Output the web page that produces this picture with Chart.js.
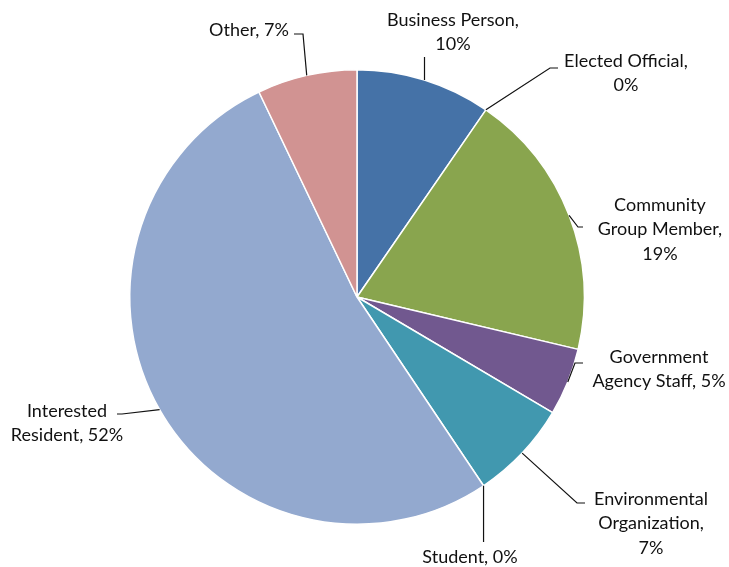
<!DOCTYPE html>
<html>
<head>
<meta charset="utf-8">
<script src="https://cdn.jsdelivr.net/npm/chart.js@4"></script>
<style>
html,body{margin:0;padding:0;background:#fff;}
#wrap{width:729px;height:567px;position:relative;}
</style>
</head>
<body>
<div id="wrap"><canvas id="c" width="729" height="567"></canvas></div>
<script>
const categories = ["Business Person", "Elected Official", "Community Group Member", "Government Agency Staff", "Environmental Organization", "Student", "Interested Resident", "Other"];
const shares = [9.6, 0, 19.1, 4.8, 7.1, 0, 52.3, 7.1];
const labelLines = [
  ["Business Person,", "{p}"],
  ["Elected Official,", "{p}"],
  ["Community", "Group Member,", "{p}"],
  ["Government", "Agency Staff, {p}"],
  ["Environmental", "Organization,", "{p}"],
  ["Student, {p}"],
  ["Interested", "Resident, {p}"],
  ["Other, {p}"]
];
const colors = ["#4572A7", "#AA4643", "#89A54E", "#71588F", "#4198AF", "#DB843D", "#93A9CF", "#D19392"];

// label layout: text centre x, first-line y, leader path after the arc point
const labelLayout = [
  {x: 453, y: 20, path: [[0, 57]]},            // x of 0 => same x as the arc point
  {x: 626, y: 61, path: [[550, 68], [558, 68]]},
  {x: 660, y: 205, path: [[578, 227], [583, 227]]},
  {x: 659, y: 357, path: [[575, 363], [583, 363]]},
  {x: 651, y: 499, path: [[577, 503], [585, 503]]},
  {x: 470, y: 557, path: [[0, 542]]},
  {x: 67, y: 411, path: [[122, 414], [117, 414]]},
  {x: 249, y: 30, path: [[303, 34], [294, 34]]}
];

const total = shares.reduce((a, b) => a + b, 0);

const leaderPlugin = {
  id: 'leaders',
  afterDatasetsDraw(chart) {
    const ctx = chart.ctx;
    const meta = chart.getDatasetMeta(0);
    ctx.save();
    meta.data.forEach((arc, i) => {
      const p = arc.getProps(['x', 'y', 'startAngle', 'endAngle', 'outerRadius'], true);
      const mid = (p.startAngle + p.endAngle) / 2;
      const ax = p.x + Math.cos(mid) * p.outerRadius;
      const ay = p.y + Math.sin(mid) * p.outerRadius;
      const lay = labelLayout[i];
      ctx.beginPath();
      ctx.strokeStyle = '#111';
      ctx.lineWidth = 1.2;
      ctx.moveTo(ax, ay);
      lay.path.forEach(pt => ctx.lineTo(pt[0] === 0 ? ax : pt[0], pt[1]));
      ctx.stroke();
      const pct = Math.round(shares[i] / total * 100) + '%';
      ctx.fillStyle = '#111';
      ctx.font = '18px Lato, "Open Sans", sans-serif';
      ctx.textAlign = 'center';
      ctx.textBaseline = 'middle';
      labelLines[i].forEach((ln, k) => {
        ctx.fillText(ln.replace('{p}', pct), lay.x, lay.y + k * 24.5);
      });
    });
    ctx.restore();
  }
};

new Chart(document.getElementById('c'), {
  type: 'pie',
  data: {
    labels: categories,
    datasets: [{
      data: shares,
      backgroundColor: colors,
      borderColor: '#ffffff',
      borderWidth: 1.5
    }]
  },
  options: {
    responsive: false,
    animation: false,
    events: [],
    layout: {padding: {top: 69, bottom: 42, left: 129, right: 144}},
    plugins: {legend: {display: false}, tooltip: {enabled: false}}
  },
  plugins: [leaderPlugin]
});
</script>
</body>
</html>
